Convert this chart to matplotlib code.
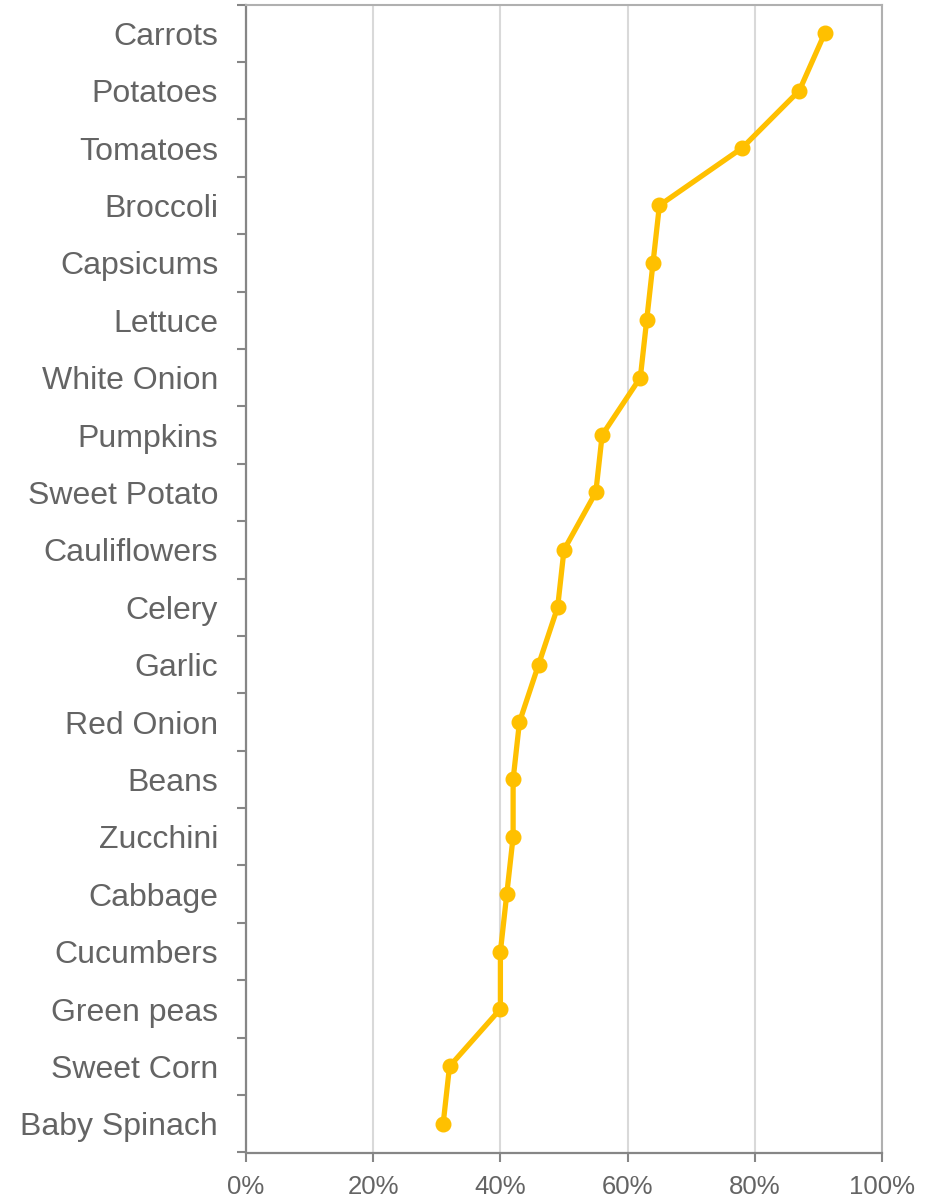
import matplotlib
matplotlib.use("Agg")
import matplotlib.pyplot as plt
from matplotlib.ticker import FixedLocator, PercentFormatter
import numpy as np

categories = ["Carrots", "Potatoes", "Tomatoes", "Broccoli", "Capsicums", "Lettuce",
              "White Onion", "Pumpkins", "Sweet Potato", "Cauliflowers", "Celery",
              "Garlic", "Red Onion", "Beans", "Zucchini", "Cabbage", "Cucumbers",
              "Green peas", "Sweet Corn", "Baby Spinach"]
values = [91, 87, 78, 65, 64, 63, 62, 56, 55, 50, 49, 46, 43, 42, 42, 41, 40, 40, 32, 31]
x_ticks = [0, 20, 40, 60, 80, 100]

plt.rcParams['font.family'] = ['Liberation Sans', 'DejaVu Sans']

fig = plt.figure(figsize=(9.35, 11.98), dpi=100)
ax = fig.add_axes([246/935, 1 - 1152.5/1198, (882-246)/935, (1152.5-4.5)/1198])

n = len(categories)
y = np.arange(n)
color = "#FFC000"
ax.plot(values, y, color=color, lw=3.8, marker='o', markersize=10.5,
        solid_joinstyle='round', solid_capstyle='round', zorder=3, clip_on=False)

ax.set_ylim(n - 0.5, -0.5)
ax.set_xlim(0, 100)

text_color = '#646464'
ax.set_yticks(y)
ax.set_yticklabels(categories)
ax.yaxis.set_minor_locator(FixedLocator(np.arange(-0.5, n, 1.0)))
ax.tick_params(axis='y', which='major', length=0, pad=20, labelsize=23, labelcolor=text_color)
ax.tick_params(axis='y', which='minor', length=6.5, width=1.5, color='#868686', direction='out')

ax.set_xticks(x_ticks)
ax.xaxis.set_major_formatter(PercentFormatter(decimals=0))
ax.tick_params(axis='x', which='major', length=6.5, width=1.5, color='#868686',
               pad=10, labelsize=18.5, labelcolor=text_color)

ax.grid(axis='x', color='#d9d9d9', lw=1.5, zorder=0)
ax.set_axisbelow(True)

for s in ['left', 'bottom']:
    ax.spines[s].set_color('#868686')
    ax.spines[s].set_linewidth(1.6)
for s in ['top', 'right']:
    ax.spines[s].set_color('#b0b0b0')
    ax.spines[s].set_linewidth(1.5)

fig.savefig("out.png", dpi=100)
